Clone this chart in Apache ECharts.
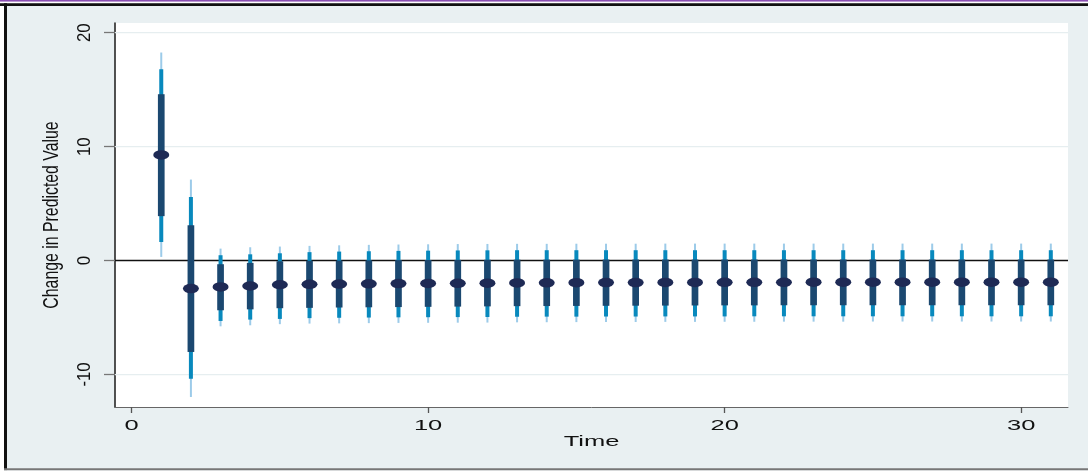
<!DOCTYPE html>
<html>
<head>
<meta charset="utf-8">
<title>Change in Predicted Value over Time</title>
<script src="https://cdn.jsdelivr.net/npm/echarts@6/dist/echarts.min.js"></script>
<style>
  html, body { margin: 0; padding: 0; background: #ffffff; }
  #chart { width: 1088px; height: 471px; }
</style>
</head>
<body>
<div id="chart"></div>
<script>
// Time periods
const time = [1, 2, 3, 4, 5, 6, 7, 8, 9, 10, 11, 12, 13, 14, 15, 16,
              17, 18, 19, 20, 21, 22, 23, 24, 25, 26, 27, 28, 29, 30, 31];

// Point estimates of the change in predicted value
const estimate = [9.27, -2.46, -2.31, -2.23, -2.12, -2.08, -2.06, -2.04, -2.02, -2.01,
                  -2.00, -1.98, -1.96, -1.95, -1.94, -1.93, -1.93, -1.92, -1.92, -1.91,
                  -1.91, -1.91, -1.90, -1.90, -1.90, -1.90, -1.90, -1.90, -1.90, -1.90, -1.90];

// Inner (narrowest) interval
const innerLow  = [3.90, -8.02, -4.36, -4.28, -4.18, -4.15, -4.12, -4.10, -4.08, -4.06,
                   -4.04, -4.02, -4.00, -3.99, -3.98, -3.97, -3.96, -3.95, -3.94, -3.93,
                   -3.93, -3.92, -3.92, -3.92, -3.92, -3.92, -3.92, -3.92, -3.92, -3.92, -3.92];
const innerHigh = [14.60, 3.10, -0.32, -0.20, -0.06, -0.02, 0.00, 0.02, 0.04, 0.05,
                   0.06, 0.07, 0.08, 0.08, 0.08, 0.09, 0.09, 0.09, 0.09, 0.09,
                   0.09, 0.09, 0.09, 0.09, 0.09, 0.09, 0.09, 0.09, 0.09, 0.09, 0.09];

// Middle interval
const midLow  = [1.63, -10.36, -5.30, -5.18, -5.12, -5.05, -5.02, -5.00, -4.98, -4.97,
                 -4.96, -4.95, -4.93, -4.92, -4.92, -4.91, -4.91, -4.90, -4.90, -4.90,
                 -4.89, -4.89, -4.89, -4.89, -4.89, -4.89, -4.89, -4.89, -4.89, -4.89, -4.89];
const midHigh = [16.80, 5.58, 0.47, 0.55, 0.64, 0.74, 0.79, 0.82, 0.85, 0.87,
                 0.89, 0.90, 0.91, 0.91, 0.91, 0.91, 0.91, 0.91, 0.91, 0.91,
                 0.91, 0.91, 0.91, 0.91, 0.91, 0.91, 0.91, 0.91, 0.91, 0.91, 0.91];

// Outer (widest) interval
const outerLow  = [0.32, -11.97, -5.77, -5.68, -5.58, -5.53, -5.51, -5.49, -5.47, -5.46,
                   -5.45, -5.44, -5.42, -5.41, -5.40, -5.39, -5.39, -5.38, -5.38, -5.37,
                   -5.37, -5.36, -5.36, -5.36, -5.35, -5.35, -5.35, -5.35, -5.35, -5.35, -5.35];
const outerHigh = [18.26, 7.11, 1.05, 1.17, 1.23, 1.29, 1.34, 1.38, 1.41, 1.43,
                   1.45, 1.46, 1.47, 1.47, 1.48, 1.48, 1.48, 1.49, 1.49, 1.49,
                   1.49, 1.49, 1.49, 1.49, 1.49, 1.49, 1.49, 1.49, 1.49, 1.49, 1.49];

// Axis ticks and titles
const yTicks = [-10, 0, 10, 20];
const xTicks = [0, 10, 20, 30];
const yTitle = 'Change in Predicted Value';
const xTitle = 'Time';

const X_MIN = -0.56, X_MAX = 31.58;
const Y_MIN = -12.85, Y_MAX = 20.85;

const BG = '#e9f0f2';
const SANS = "'Liberation Sans', Arial, sans-serif";

const chart = echarts.init(document.getElementById('chart'), null, { renderer: 'canvas' });

// Vertical interval bar drawn between a low and a high value
function intervalSeries(name, low, high, width, color, z) {
  return {
    type: 'custom',
    name: name,
    z: z,
    silent: true,
    clip: false,
    encode: { x: 0, y: [1, 2] },
    data: time.map((t, i) => [t, low[i], high[i]]),
    renderItem: function (params, api) {
      const top = api.coord([api.value(0), api.value(2)]);
      const bottom = api.coord([api.value(0), api.value(1)]);
      return {
        type: 'rect',
        shape: { x: top[0] - width / 2, y: top[1], width: width, height: bottom[1] - top[1] },
        style: { fill: color }
      };
    }
  };
}

// Horizontal reference lines across the plot region
function hLineSeries(name, values, color, width, z) {
  return {
    type: 'custom',
    name: name,
    z: z,
    silent: true,
    encode: { y: 0 },
    data: values.map(v => [v]),
    renderItem: function (params, api) {
      const cs = params.coordSys;
      const y = api.coord([0, api.value(0)])[1];
      return {
        type: 'line',
        shape: { x1: cs.x, y1: y, x2: cs.x + cs.width, y2: y },
        style: { stroke: color, lineWidth: width }
      };
    }
  };
}

const option = {
  backgroundColor: BG,
  animation: false,
  grid: {
    left: 115, right: 20, top: 23, bottom: 64,
    show: true, backgroundColor: '#ffffff', borderWidth: 0
  },
  xAxis: {
    type: 'value',
    min: X_MIN, max: X_MAX,
    axisLine: { show: true, onZero: false, lineStyle: { color: '#666666', width: 1 } },
    axisTick: { show: true, customValues: xTicks, length: 6, inside: false,
                lineStyle: { color: '#555555', width: 1.3 } },
    axisLabel: { show: false, customValues: xTicks },
    splitLine: { show: false }
  },
  yAxis: {
    type: 'value',
    min: Y_MIN, max: Y_MAX,
    axisLine: { show: true, onZero: false, lineStyle: { color: '#333333', width: 1.7 } },
    axisTick: { show: true, customValues: yTicks, length: 11, inside: false,
                lineStyle: { color: '#777777', width: 1.3 } },
    axisLabel: { show: false, customValues: yTicks },
    splitLine: { show: false }
  },
  series: [
    hLineSeries('grid', yTicks.filter(v => v !== 0), '#e6eef0', 1.3, 1),
    hLineSeries('zero', [0], '#111111', 1.5, 2),
    intervalSeries('outer', outerLow, outerHigh, 2, '#9ccbe9', 3),
    intervalSeries('middle', midLow, midHigh, 4, '#0889bd', 4),
    intervalSeries('inner', innerLow, innerHigh, 6.7, '#1b4870', 5),
    {
      type: 'scatter',
      name: 'estimate',
      z: 6,
      silent: true,
      symbol: 'circle',
      symbolSize: [16, 9.5],
      itemStyle: { color: '#1e2a55', opacity: 1 },
      data: time.map((t, i) => [t, estimate[i]])
    }
  ]
};

chart.setOption(option);

function textEl(str, x, y, size, scaleX, rotation) {
  return {
    type: 'text', x: x, y: y, scaleX: scaleX, rotation: rotation || 0, silent: true,
    style: { text: str, fontFamily: SANS, fontSize: size, fill: '#111111',
             align: 'center', verticalAlign: 'middle',
             textAlign: 'center', textVerticalAlign: 'middle' }
  };
}

// Frame around the graph region, plus the axis labels and titles
function frameAndText() {
  const g = [
    { type: 'rect', shape: { x: 0, y: 0, width: 1088, height: 1.7 }, style: { fill: '#8b4fb3' }, silent: true },
    { type: 'rect', shape: { x: 0, y: 1.7, width: 1088, height: 1.6 }, style: { fill: '#ffffff' }, silent: true },
    { type: 'rect', shape: { x: 0, y: 3.3, width: 1088, height: 2.7 }, style: { fill: '#111111' }, silent: true },
    { type: 'rect', shape: { x: 0, y: 6, width: 4, height: 465 }, style: { fill: '#ffffff' }, silent: true },
    { type: 'rect', shape: { x: 4, y: 3.3, width: 3, height: 467 }, style: { fill: '#111111' }, silent: true },
    { type: 'rect', shape: { x: 4, y: 468.3, width: 1084, height: 2.3 }, style: { fill: '#777777' }, silent: true },
    { type: 'rect', shape: { x: 0, y: 470.6, width: 1088, height: 1 }, style: { fill: '#ffffff' }, silent: true }
  ];

  // x axis: tick labels and title, widened horizontally
  const bottomPx = chart.convertToPixel({ yAxisIndex: 0 }, Y_MIN);
  const labelY = bottomPx + 19;
  xTicks.forEach(v => {
    g.push(textEl(String(v), chart.convertToPixel({ xAxisIndex: 0 }, v), labelY, 15, 1.7));
  });
  const leftPx = chart.convertToPixel({ xAxisIndex: 0 }, X_MIN);
  const rightPx = chart.convertToPixel({ xAxisIndex: 0 }, X_MAX);
  g.push(textEl(xTitle, (leftPx + rightPx) / 2, labelY + 15.5, 15, 1.7));

  // y axis: rotated tick labels and a condensed rotated title
  yTicks.forEach(v => {
    g.push(textEl(String(v), leftPx - 30, chart.convertToPixel({ yAxisIndex: 0 }, v), 18, 0.93, Math.PI / 2));
  });
  const topPx = chart.convertToPixel({ yAxisIndex: 0 }, Y_MAX);
  g.push(textEl(yTitle, leftPx - 63, (topPx + bottomPx) / 2, 22, 0.72, Math.PI / 2));

  chart.setOption({ graphic: { elements: g } });
}
frameAndText();
</script>
</body>
</html>
